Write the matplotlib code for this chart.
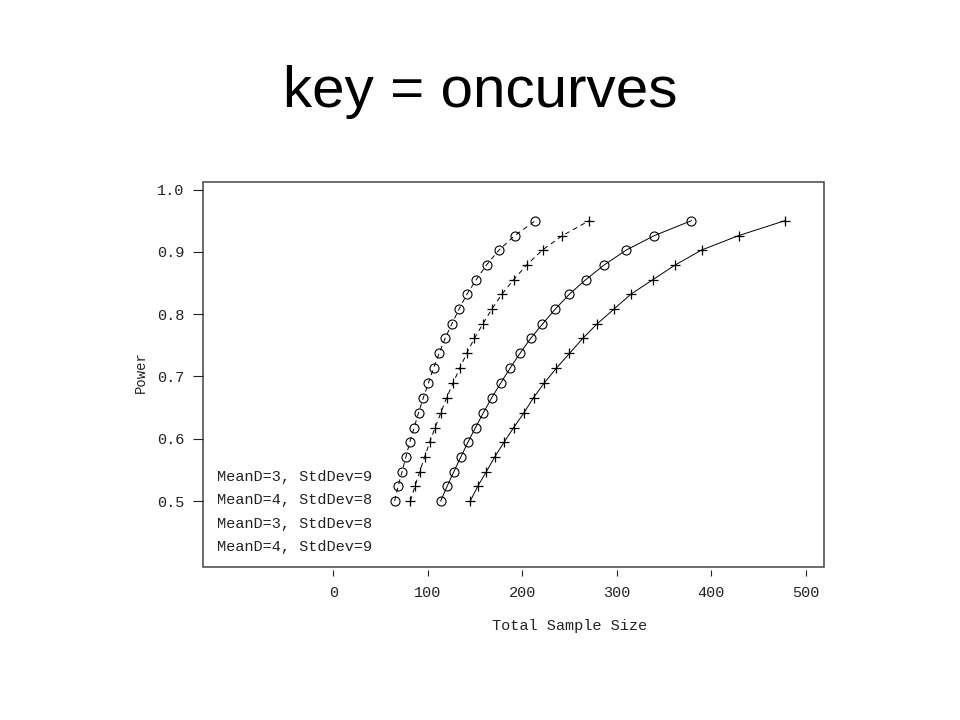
'''
plot.py - power curves, key = oncurves
'''
import matplotlib
matplotlib.use('Agg')
import matplotlib.pyplot as plt
from matplotlib.patches import Rectangle

# power levels on each curve
power = [0.500, 0.524, 0.547, 0.571, 0.595, 0.618, 0.642, 0.666, 0.689, 0.713,
         0.737, 0.761, 0.784, 0.808, 0.832, 0.855, 0.879, 0.903, 0.926, 0.950]

# total sample size for each power level
n_mean4_sd8 = [64.9, 68.7, 72.8, 76.9, 81.1, 85.6, 90.3, 95.4, 100.6, 106.1,
               112.0, 118.4, 125.4, 133.1, 141.5, 151.2, 162.2, 175.5, 192.0, 214.0]
n_mean4_sd9 = [81.6, 86.5, 91.5, 96.8, 102.2, 107.8, 113.9, 120.1, 126.7, 133.8,
               141.2, 149.3, 158.2, 167.8, 178.5, 190.8, 204.7, 221.5, 242.5, 270.8]
n_mean3_sd8 = [113.7, 120.6, 127.6, 135.1, 142.7, 150.6, 159.0, 167.8, 177.1, 187.0,
               197.6, 208.9, 221.4, 234.9, 249.9, 267.0, 286.8, 310.3, 339.8, 379.0]
n_mean3_sd9 = [145, 153, 162, 171, 181, 191, 202, 212, 223, 236,
               250, 264, 279, 297, 315, 338, 362, 390, 429, 478]

key_labels = ['MeanD=3, StdDev=9', 'MeanD=4, StdDev=8',
              'MeanD=3, StdDev=8', 'MeanD=4, StdDev=9']

x_ticks = [0, 100, 200, 300, 400, 500]
y_ticks = [0.5, 0.6, 0.7, 0.8, 0.9, 1.0]

mono = 'Liberation Mono'
ink = '#222222'

fig = plt.figure(figsize=(9.6, 7.2), dpi=100)
fig.patch.set_facecolor('white')

# title
fig.text(0.5, 1 - 106.7 / 720, 'key = oncurves', ha='center', va='baseline',
         fontsize=42, family='Liberation Sans', color='black')

ax = fig.add_axes([202.7 / 960, 1 - 567.3 / 720, 621.3 / 960, 385.0 / 720])
ax.set_xlim(-138.2, 519.4)
ax.set_ylim(0.3936, 1.0116)

# curves
dash = (0, (5, 4))
ax.plot(n_mean4_sd8, power, color='black', lw=0.7, linestyle=dash,
        marker='o', markersize=6.5, markerfacecolor='none', markeredgewidth=0.8)
ax.plot(n_mean4_sd9, power, color='black', lw=0.7, linestyle=dash,
        marker='+', markersize=7.5, markeredgewidth=0.9)
ax.plot(n_mean3_sd8, power, color='black', lw=0.7, linestyle='-',
        marker='o', markersize=6.5, markerfacecolor='none', markeredgewidth=0.8)
ax.plot(n_mean3_sd9, power, color='black', lw=0.7, linestyle='-',
        marker='+', markersize=7.5, markeredgewidth=0.9)

# frame drawn by hand, spines only carry the ticks
for side in ['top', 'right', 'left', 'bottom']:
    ax.spines[side].set_visible(False)
ax.spines['bottom'].set_position(('outward', 2.2))
ax.add_patch(Rectangle((0, 0), 1, 1, transform=ax.transAxes, fill=False,
                       edgecolor='#444444', lw=1.1, clip_on=False))

ax.set_xticks(x_ticks)
ax.set_xticklabels([str(t) for t in x_ticks])
ax.set_yticks(y_ticks)
ax.set_yticklabels(['%.1f' % t for t in y_ticks])
ax.tick_params(axis='x', direction='out', length=4.3, width=0.8, color=ink,
               pad=7, labelsize=11, labelcolor=ink)
ax.tick_params(axis='y', direction='out', length=7.2, width=0.8, color=ink,
               pad=6, labelsize=11, labelcolor=ink)
for lab in ax.get_xticklabels() + ax.get_yticklabels():
    lab.set_family(mono)

# axis labels
fig.text(569.5 / 960, 1 - 626 / 720, 'Total Sample Size', ha='center',
         va='center', fontsize=11, family=mono, color=ink)
fig.text(141 / 960, 1 - 372.5 / 720, 'Power', ha='center', va='center',
         rotation=90, fontsize=10, family=mono, color=ink)

# key text
for lab, y in zip(key_labels, [477, 500, 524, 547]):
    fig.text(217 / 960, 1 - y / 720, lab, ha='left', va='center',
             fontsize=11, family=mono, color=ink)

fig.savefig('out.png', dpi=100)
